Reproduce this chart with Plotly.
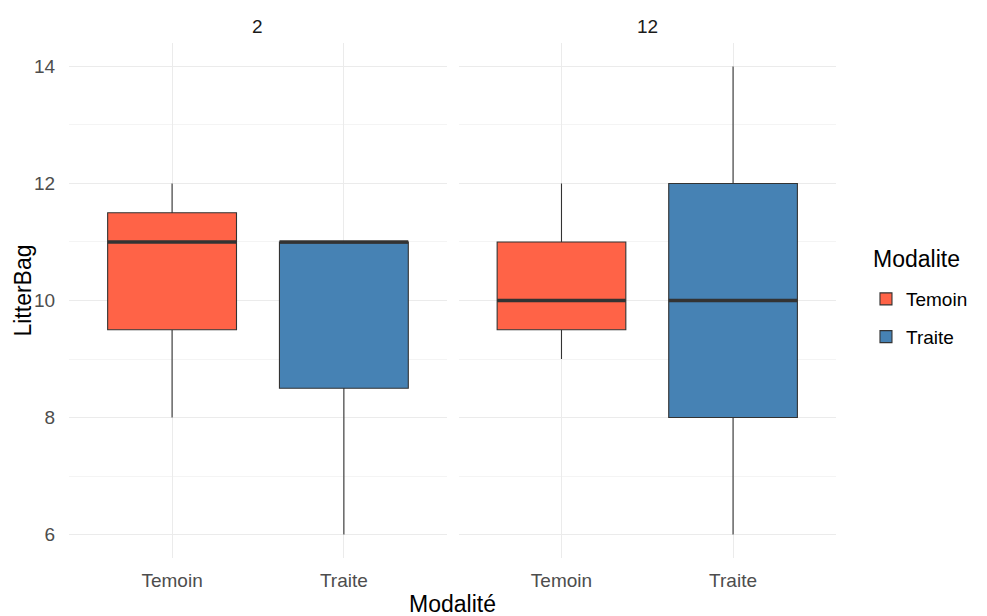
import plotly.graph_objects as go

# ---- data ----
panels = ["2", "12"]
categories = ["Temoin", "Traite"]
colors = ["#FF6347", "#4682B4"]

# panel "2"
lower_p2 = [8, 6]
q1_p2 = [9.5, 8.5]
median_p2 = [11, 11]
q3_p2 = [11.5, 11]
upper_p2 = [12, 11]

# panel "12"
lower_p12 = [9, 6]
q1_p12 = [9.5, 8]
median_p12 = [10, 10]
q3_p12 = [11, 12]
upper_p12 = [12, 14]

y_ticks = [6, 8, 10, 12, 14]

stats = {
    "2": (lower_p2, q1_p2, median_p2, q3_p2, upper_p2),
    "12": (lower_p12, q1_p12, median_p12, q3_p12, upper_p12),
}

BOX_W = 0.75
FONT = "Liberation Sans, Arial, sans-serif"

fig = go.Figure()

for p_idx, panel in enumerate(panels):
    xa = "x" if p_idx == 0 else "x2"
    ya = "y" if p_idx == 0 else "y2"
    lo, q1, med, q3, up = stats[panel]
    for i, cat in enumerate(categories):
        fig.add_trace(go.Box(
            x=[i], q1=[q1[i]], median=[med[i]], q3=[q3[i]],
            lowerfence=[lo[i]], upperfence=[up[i]],
            width=BOX_W, whiskerwidth=0,
            fillcolor=colors[i],
            line=dict(color="#333333", width=1.1),
            name=cat, legendgroup=cat, showlegend=(p_idx == 0),
            xaxis=xa, yaxis=ya, hoverinfo="skip",
        ))
        fig.add_trace(go.Scatter(
            x=[i - BOX_W / 2, i + BOX_W / 2], y=[med[i], med[i]],
            mode="lines", line=dict(color="#333333", width=3.6),
            showlegend=False, hoverinfo="skip", xaxis=xa, yaxis=ya,
        ))

axis_common = dict(
    range=[-0.6, 1.6], tickmode="array", tickvals=[0, 1], ticktext=categories,
    showgrid=True, gridcolor="#EBEBEB", gridwidth=1, zeroline=False, showline=False,
    ticks="outside", ticklen=5, tickcolor="rgba(0,0,0,0)",
    tickfont=dict(family=FONT, size=19, color="#4D4D4D"),
)
y_common = dict(
    range=[5.6, 14.4], tickmode="array", tickvals=y_ticks,
    showgrid=True, gridcolor="#EBEBEB", gridwidth=1, zeroline=False, showline=False,
    minor=dict(showgrid=True, gridcolor="#F4F4F4", gridwidth=1, dtick=1, tick0=0),
    ticks="outside", ticklen=9, tickcolor="rgba(0,0,0,0)",
    tickfont=dict(family=FONT, size=19, color="#4D4D4D"),
)

PL, PR = 60.5, 828
d1_end = (446.7 - 8 - PL) / (PR - PL)
d2_start = (458.3 - 8 - PL) / (PR - PL)
PT, PB = 34.6, 550.4

def py(page_y):
    return (PB - (page_y - 8)) / (PB - PT)

def px(page_x):
    return ((page_x - 8) - PL) / (PR - PL)

fig.update_layout(
    width=987, height=616,
    margin=dict(l=PL, r=987 - PR, t=PT, b=616 - PB),
    paper_bgcolor="white", plot_bgcolor="white",
    boxmode="overlay",
    font=dict(family=FONT, color="black"),
    xaxis=dict(domain=[0, d1_end], anchor="y", **axis_common),
    xaxis2=dict(domain=[d2_start, 1], anchor="y2", **axis_common),
    yaxis=dict(domain=[0, 1], anchor="x", **y_common),
    yaxis2=dict(domain=[0, 1], anchor="x2", matches="y", showticklabels=False,
                **{k: v for k, v in y_common.items() if k not in ("tickfont",)}),
    legend=dict(
        font=dict(family=FONT, size=19, color="black"),
        x=px(866), xanchor="left", y=py(280), yanchor="top",
        tracegroupgap=10, bgcolor="rgba(0,0,0,0)",
    ),
    showlegend=True,
)

annotations = [
    dict(text=panels[0], xref="x domain", yref="paper", x=0.5, y=1.0, yshift=4,
         yanchor="bottom", showarrow=False, font=dict(family=FONT, size=19, color="#1A1A1A")),
    dict(text=panels[1], xref="x2 domain", yref="paper", x=0.5, y=1.0, yshift=4,
         yanchor="bottom", showarrow=False, font=dict(family=FONT, size=19, color="#1A1A1A")),
    dict(text="Modalité", xref="paper", yref="paper", x=px(452), y=py(604),
         xanchor="center", yanchor="middle", showarrow=False,
         font=dict(family=FONT, size=23, color="black")),
    dict(text="LitterBag", xref="paper", yref="paper", x=px(22), y=py(291),
         xanchor="center", yanchor="middle", textangle=-90, showarrow=False,
         font=dict(family=FONT, size=23, color="black")),
    dict(text="Modalite", xref="paper", yref="paper", x=px(871), y=py(259),
         xanchor="left", yanchor="middle", showarrow=False,
         font=dict(family=FONT, size=23, color="black")),
]
fig.update_layout(annotations=annotations)

fig.write_html("out.html")
